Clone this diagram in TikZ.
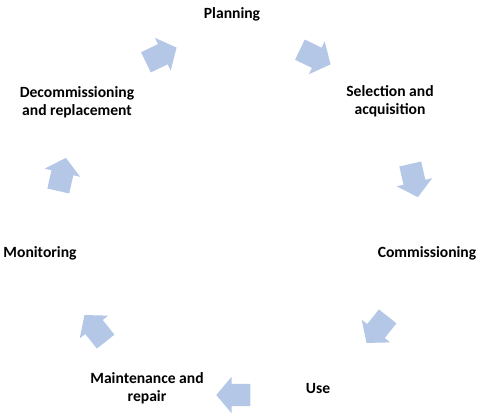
\documentclass[tikz,border=0pt]{standalone}
\usepackage{fontspec}
\setmainfont{Carlito}
\usepackage{xcolor}
\usetikzlibrary{shapes.arrows}

\definecolor{cycleblue}{RGB}{180,199,231}

\begin{document}
\begin{tikzpicture}[x=1pt, y=-1pt,
		stage/.style={align=center, inner sep=0pt, font=\fontsize{15.6}{18}\selectfont\bfseries},
		cyclearrow/.style={shape=single arrow, fill=cycleblue, draw=none, inner xsep=0pt, inner ysep=11pt,
			minimum height=34pt, single arrow head extend=7pt, single arrow tip angle=100}]
				\useasboundingbox (0,0) rectangle (480,418);

				% stages
				\node[stage] (planning) at (232,14) {Planning};
				\node[stage] (selection) at (390,101) {Selection and\\acquisition};
				\node[stage] (commissioning) at (427,253) {Commissioning};
				\node[stage] (use) at (318,388) {Use};
				\node[stage] (maintenance) at (147,388) {Maintenance and\\repair};
				\node[stage] (monitoring) at (40,253) {Monitoring};
				\node[stage] (decommissioning) at (77,102) {Decommissioning\\and replacement};

				% arrows between stages
				\node[cyclearrow, rotate=25.7] (arr-dp) at (157,57) {};
				\node[cyclearrow, rotate=-25.7] (arr-ps) at (311,55) {};
				\node[cyclearrow, rotate=-77.1] (arr-sc) at (413,176) {};
				\node[cyclearrow, rotate=-128.6] (arr-cu) at (380,326) {};
				\node[cyclearrow, rotate=180] (arr-um) at (238,395) {};
				\node[cyclearrow, rotate=128.6] (arr-mm) at (98,332) {};
				\node[cyclearrow, rotate=77.1] (arr-md) at (61,179) {};
			\end{tikzpicture}
\end{document}
